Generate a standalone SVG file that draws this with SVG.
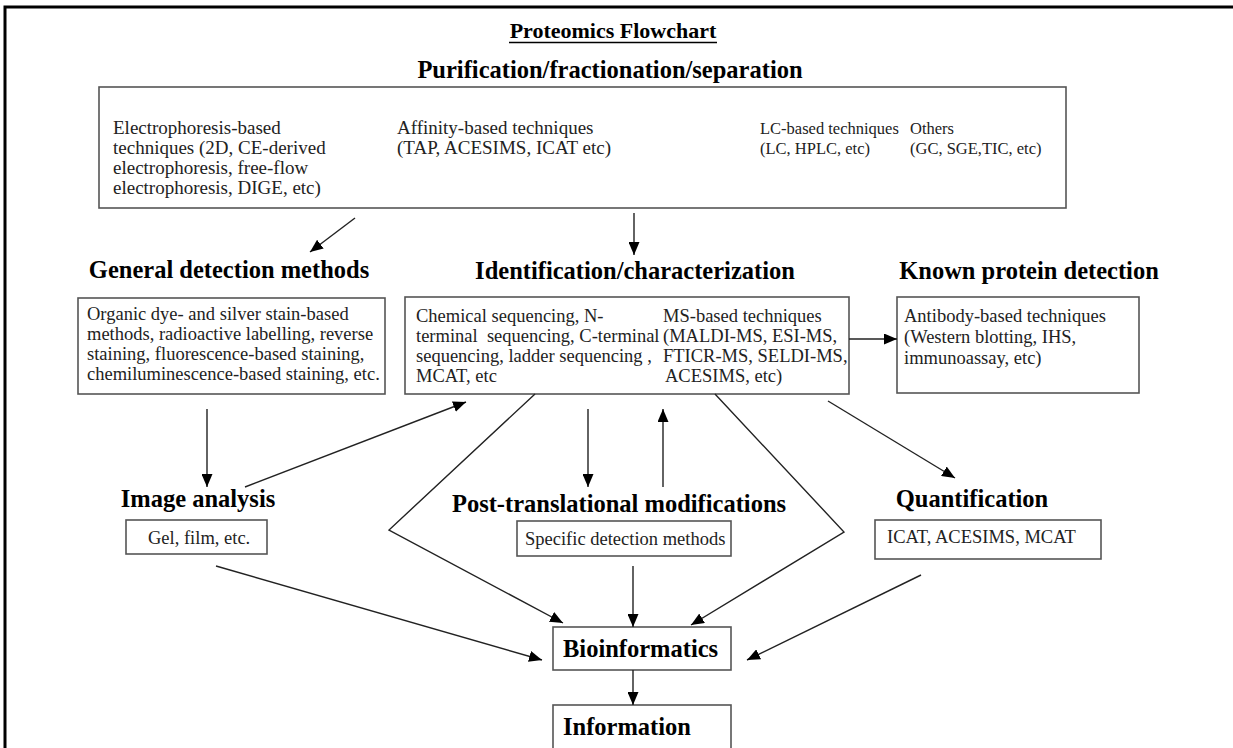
<svg xmlns="http://www.w3.org/2000/svg" width="1233" height="748" viewBox="0 0 1233 748">
<style>
.bg{fill:#fff}
.frame{fill:none;stroke:#000;stroke-width:3}
.box{fill:#fff;stroke:#555;stroke-width:1.6}
.h{font-family:"Liberation Serif","Times New Roman",serif;font-weight:bold;font-size:24.5px;fill:#000}
.t{font-family:"Liberation Serif","Times New Roman",serif;font-size:18.5px;fill:#222}
.l{font-size:19px}
.s{font-size:16.5px}
.title{font-family:"Liberation Serif","Times New Roman",serif;font-weight:bold;font-size:22px;fill:#000}
.c{fill:none;stroke:#222;stroke-width:1.4}
</style>
<defs>
<marker id="ah" markerUnits="userSpaceOnUse" markerWidth="13" markerHeight="11" refX="13" refY="5.5" orient="auto" viewBox="0 0 13 11">
<path d="M0,0 L13,5.5 L0,11 z" fill="#000"/>
</marker>
</defs>
<rect class="bg" x="0" y="0" width="1233" height="748"/>
<path class="frame" d="M5,748 L5,7 L1233,7"/>

<g id="title">
<text class="title" x="613" y="38" text-anchor="middle">Proteomics Flowchart</text>
<line x1="509" y1="42.5" x2="717" y2="42.5" stroke="#000" stroke-width="1.5"/>
</g>

<g id="purification">
<text class="h" x="610" y="78" text-anchor="middle">Purification/fractionation/separation</text>
<rect class="box" x="99" y="87" width="967" height="121"/>
<text class="t l" x="113" y="134">Electrophoresis-based</text>
<text class="t l" x="113" y="154">techniques (2D, CE-derived</text>
<text class="t l" x="113" y="174">electrophoresis, free-flow</text>
<text class="t l" x="113" y="194">electrophoresis, DIGE, etc)</text>
<text class="t l" x="397" y="134">Affinity-based techniques</text>
<text class="t l" x="397" y="154">(TAP, ACESIMS, ICAT etc)</text>
<text class="t s" x="760" y="134">LC-based techniques</text>
<text class="t s" x="760" y="154">(LC, HPLC, etc)</text>
<text class="t s" x="910" y="134">Others</text>
<text class="t s" x="910" y="154">(GC, SGE,TIC, etc)</text>
</g>

<g id="general">
<text class="h" x="229" y="278" text-anchor="middle">General detection methods</text>
<rect class="box" x="78" y="298" width="307" height="96"/>
<text class="t" x="87" y="320">Organic dye- and silver stain-based</text>
<text class="t" x="87" y="340">methods, radioactive labelling, reverse</text>
<text class="t" x="87" y="360">staining, fluorescence-based staining,</text>
<text class="t" x="87" y="380">chemiluminescence-based staining, etc.</text>
</g>

<g id="identification">
<text class="h" x="635" y="279" text-anchor="middle">Identification/characterization</text>
<rect class="box" x="405" y="297" width="444" height="97"/>
<text class="t" x="416" y="322">Chemical sequencing, N-</text>
<text class="t" x="416" y="342" style="white-space:pre">terminal  sequencing, C-terminal</text>
<text class="t" x="416" y="362">sequencing, ladder sequencing ,</text>
<text class="t" x="416" y="382">MCAT, etc</text>
<text class="t" x="663" y="322">MS-based techniques</text>
<text class="t" x="663" y="342">(MALDI-MS, ESI-MS,</text>
<text class="t" x="663" y="362">FTICR-MS, SELDI-MS,</text>
<text class="t" x="665" y="382">ACESIMS, etc)</text>
</g>

<g id="known">
<text class="h" x="1029" y="279" text-anchor="middle">Known protein detection</text>
<rect class="box" x="897" y="297" width="242" height="96"/>
<text class="t" x="904" y="322">Antibody-based techniques</text>
<text class="t" x="904" y="343">(Western blotting, IHS,</text>
<text class="t" x="904" y="364">immunoassay, etc)</text>
</g>

<g id="image-analysis">
<text class="h" x="198" y="507" text-anchor="middle">Image analysis</text>
<rect class="box" x="126" y="520" width="141" height="34"/>
<text class="t" x="148" y="544">Gel, film, etc.</text>
</g>

<g id="ptm">
<text class="h" x="619" y="512" text-anchor="middle">Post-translational modifications</text>
<rect class="box" x="517" y="521" width="214" height="35"/>
<text class="t" x="525" y="545">Specific detection methods</text>
</g>

<g id="quantification">
<text class="h" x="972" y="507" text-anchor="middle">Quantification</text>
<rect class="box" x="875" y="520" width="226" height="39"/>
<text class="t" x="887" y="543">ICAT, ACESIMS, MCAT</text>
</g>

<g id="bioinformatics">
<rect class="box" x="553" y="627" width="178" height="43"/>
<text class="h" x="563" y="657">Bioinformatics</text>
</g>

<g id="information">
<rect class="box" x="553" y="705" width="178" height="60"/>
<text class="h" x="563" y="735">Information</text>
</g>

<g id="connectors">
<line class="c" x1="355" y1="218" x2="310" y2="252" marker-end="url(#ah)"/>
<line class="c" x1="634" y1="213" x2="634" y2="255" marker-end="url(#ah)"/>
<line class="c" x1="849" y1="339" x2="897" y2="339" marker-end="url(#ah)"/>
<line class="c" x1="207" y1="409" x2="207" y2="487" marker-end="url(#ah)"/>
<line class="c" x1="245" y1="487" x2="466" y2="402" marker-end="url(#ah)"/>
<line class="c" x1="588" y1="409" x2="588" y2="487" marker-end="url(#ah)"/>
<line class="c" x1="663" y1="487" x2="663" y2="409" marker-end="url(#ah)"/>
<line class="c" x1="828" y1="401" x2="955" y2="478" marker-end="url(#ah)"/>
<polyline class="c" points="535,394 389,530 563,623" marker-end="url(#ah)"/>
<polyline class="c" points="715,394 844,532 691,625" marker-end="url(#ah)"/>
<line class="c" x1="216" y1="566" x2="542" y2="660" marker-end="url(#ah)"/>
<line class="c" x1="633" y1="566" x2="633" y2="627" marker-end="url(#ah)"/>
<line class="c" x1="921" y1="575" x2="747" y2="660" marker-end="url(#ah)"/>
<line class="c" x1="633" y1="670" x2="633" y2="705" marker-end="url(#ah)"/>
</g>
</svg>
